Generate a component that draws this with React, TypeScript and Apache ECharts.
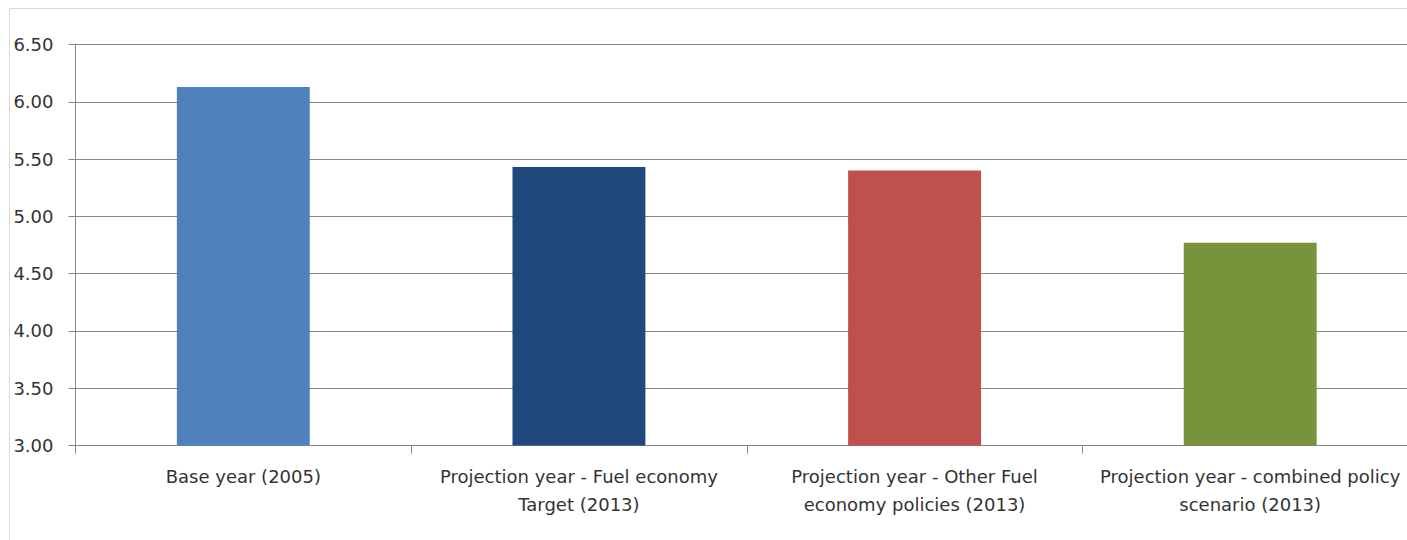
import React, { useEffect, useRef } from "react";
import * as echarts from "echarts";

// Category labels (wrapped as shown under the axis)
const categories: string[] = [
  "Base year (2005)",
  "Projection year - Fuel economy\nTarget (2013)",
  "Projection year - Other Fuel\neconomy policies (2013)",
  "Projection year - combined policy\nscenario (2013)",
];

// Bar values
const values: number[] = [6.13, 5.43, 5.4, 4.77];

// Bar colours, one per category
const barColors: string[] = ["#4F81BD", "#1F497D", "#C0504D", "#77933C"];

// Value axis range
const yMin = 3.0;
const yMax = 6.5;
const yStep = 0.5;

const FONT = "DejaVu Sans";
const TEXT_COLOR = "#333333";
const LINE_COLOR = "#878787";

export default function App() {
  const ref = useRef<HTMLDivElement>(null);

  useEffect(() => {
    if (!ref.current) return;
    const chart = echarts.init(ref.current, undefined, { renderer: "svg" });
    chart.setOption({
      animation: false,
      backgroundColor: "#ffffff",
      textStyle: { fontFamily: FONT },
      graphic: [
        {
          type: "rect",
          shape: { x: 9.5, y: 8.5, width: 1440, height: 600 },
          style: { fill: "none", stroke: "#D9D9D9", lineWidth: 1 },
          silent: true,
          z: -1,
        },
      ],
      grid: {
        left: 75.5,
        top: 44.5,
        bottom: 94.5,
        right: 0,
        containLabel: false,
      },
      xAxis: {
        type: "category",
        data: categories,
        boundaryGap: true,
        axisLine: { show: true, lineStyle: { color: LINE_COLOR, width: 1 } },
        axisTick: { show: true, length: 8, lineStyle: { color: LINE_COLOR } },
        axisLabel: {
          interval: 0,
          margin: 17,
          fontFamily: FONT,
          fontSize: 18,
          lineHeight: 28,
          color: TEXT_COLOR,
          align: "center",
        },
        splitLine: { show: false },
      },
      yAxis: {
        type: "value",
        min: yMin,
        max: yMax,
        interval: yStep,
        axisLine: { show: true, lineStyle: { color: LINE_COLOR, width: 1 } },
        axisTick: { show: true, length: 7, lineStyle: { color: LINE_COLOR } },
        axisLabel: {
          margin: 22,
          fontFamily: FONT,
          fontSize: 18,
          color: TEXT_COLOR,
          formatter: (v: number) => v.toFixed(2),
        },
        splitLine: { show: true, lineStyle: { color: LINE_COLOR, width: 1 } },
      },
      series: [
        {
          type: "bar",
          barWidth: "39.6%",
          data: values.map((v, i) => ({
            value: v,
            itemStyle: { color: barColors[i] },
          })),
        },
      ],
    });
    return () => {
      chart.dispose();
    };
  }, []);

  return (
    <div
      style={{
        position: "fixed",
        left: 0,
        top: 0,
        width: 1407,
        height: 540,
        overflow: "hidden",
        background: "#ffffff",
      }}
    >
      <div ref={ref} style={{ width: 1418, height: 540 }} />
    </div>
  );
}
